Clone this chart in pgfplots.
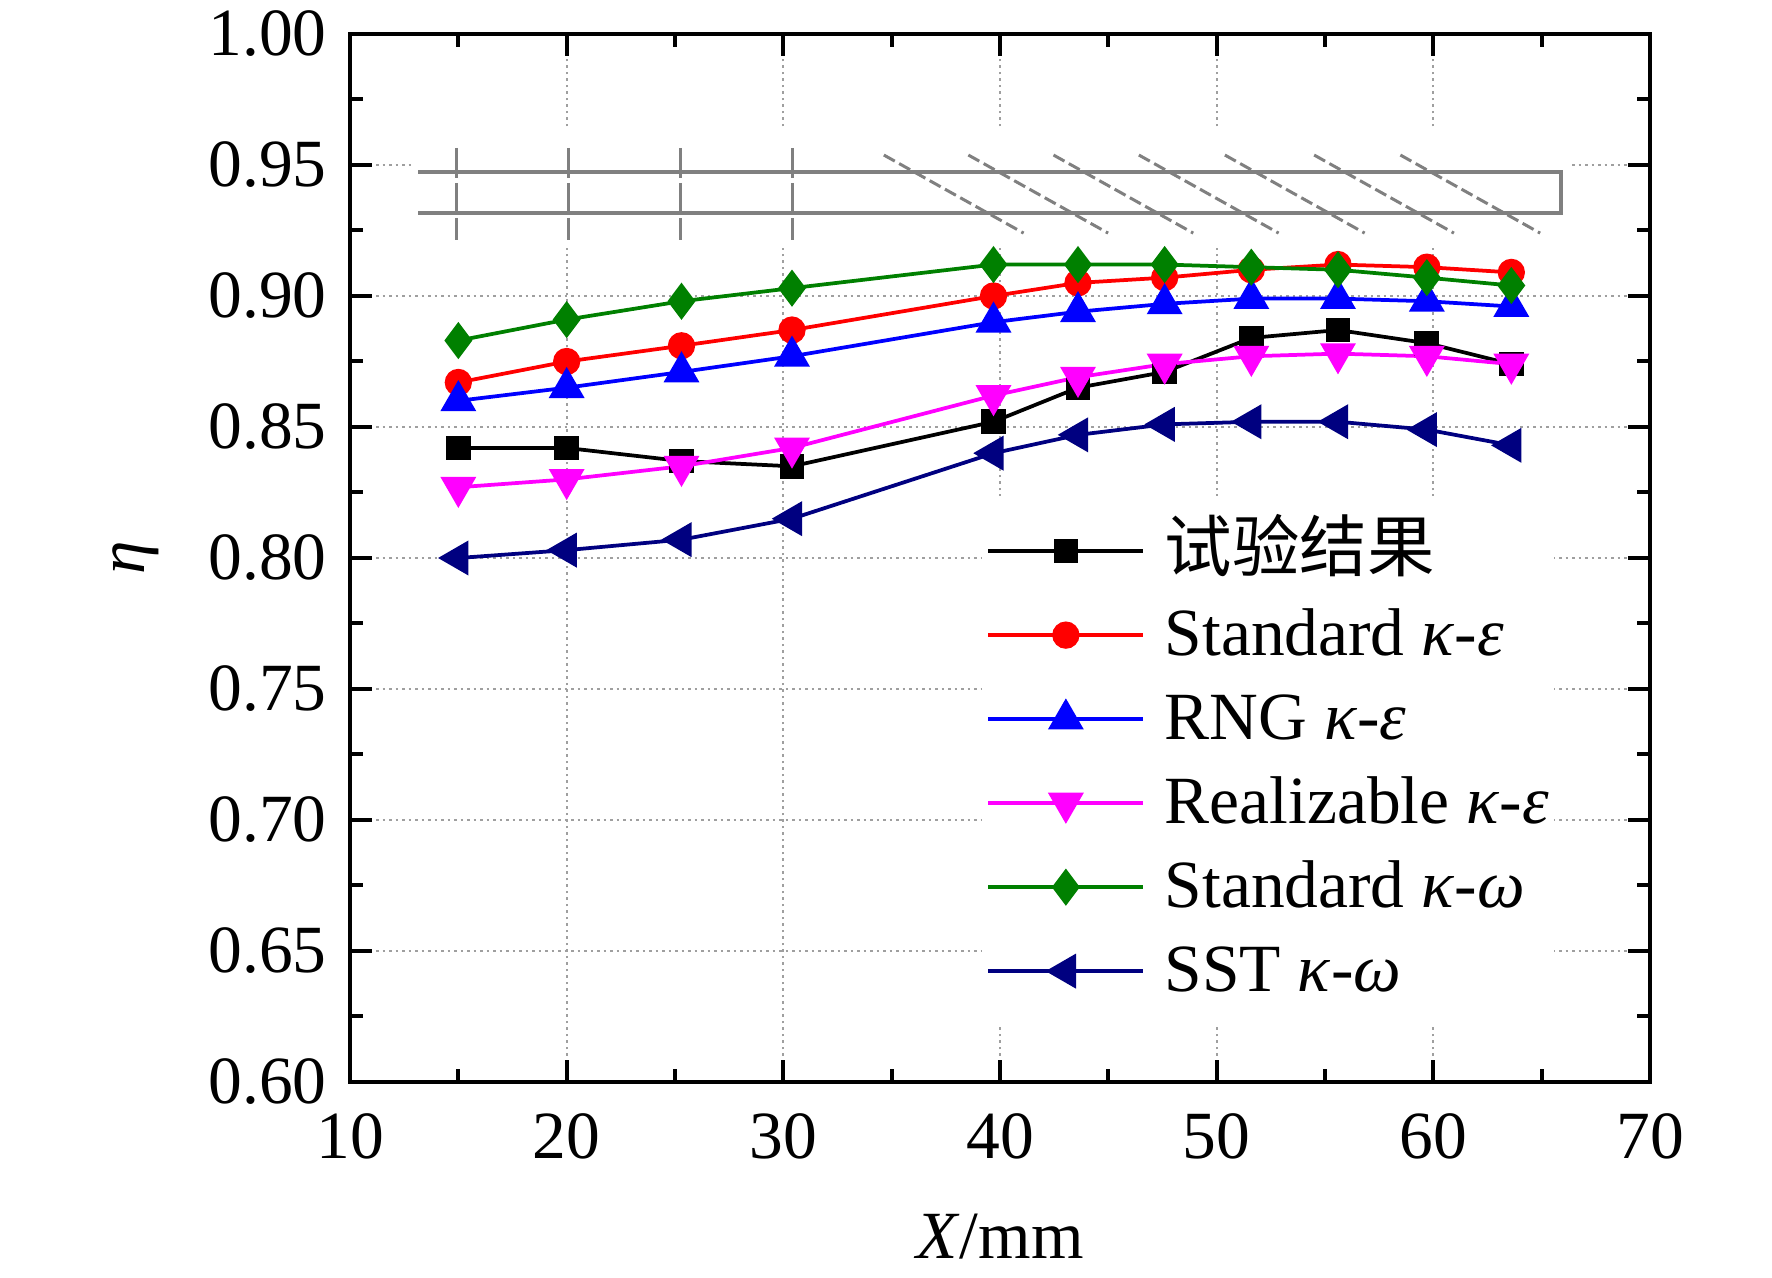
\documentclass[border=0pt]{standalone}
\usepackage{fontspec}
\setmainfont{Liberation Serif}
\newfontfamily\cjk{Noto Sans CJK SC}
\usepackage{pgfplots}
\usepackage{pgfplotstable}
\pgfplotsset{compat=1.18}
\pgfplotstableread{
x     exp    ske    rng    rke    skw    sst
15.0  0.842  0.867  0.860  0.827  0.883  0.800
20.0  0.842  0.875  0.865  0.830  0.891  0.803
25.3  0.837  0.881  0.871  0.835  0.898  0.807
30.4  0.835  0.887  0.877  0.842  0.903  0.815
39.7  0.852  0.900  0.890  0.862  0.912  0.840
43.6  0.865  0.905  0.894  0.869  0.912  0.847
47.6  0.871  0.907  0.897  0.874  0.912  0.851
51.6  0.884  0.910  0.899  0.877  0.911  0.852
55.6  0.887  0.912  0.899  0.878  0.910  0.852
59.7  0.882  0.911  0.898  0.877  0.907  0.849
63.6  0.874  0.909  0.896  0.874  0.904  0.843
}\datatable
\definecolor{navyc}{RGB}{0,0,128}
\definecolor{greenc}{RGB}{0,128,0}
\definecolor{magc}{RGB}{255,0,255}
\begin{document}
\fontsize{13.5}{16}\selectfont
\begin{tikzpicture}
\begin{axis}[
  scale only axis, width=260pt, height=209.6pt,
  xmin=10, xmax=70, ymin=0.6, ymax=1.0,
  xtick={10,20,30,40,50,60,70},
  ytick={0.60,0.65,0.70,0.75,0.80,0.85,0.90,0.95,1.00},
  minor x tick num=1, minor y tick num=1,
  tick align=inside,
  major tick length=4.4pt, minor tick length=2.6pt,
  every tick/.style={black, line width=0.8pt},
  axis line style={line width=0.8pt},
  /pgf/number format/assume math mode=true,
  yticklabel style={/pgf/number format/.cd, fixed, fixed zerofill, precision=2},
  xticklabel style={yshift=-1.7pt},
  tick label style={font=\fontsize{13.5}{16}\selectfont},
  grid=major,
  major grid style={gray!75, line width=0.35pt, dash pattern=on 0.5pt off 0.8pt},
  xlabel={\textit{X}/mm},
  ylabel={\textit{η}},
  label style={font=\fontsize{13.5}{16}\selectfont},
  xlabel style={at={(rel axis cs:0.5,0)}, anchor=base, yshift=-35.2pt},
  ylabel style={at={(rel axis cs:0,0.5)}, anchor=center, yshift=42.8pt},
  every axis plot/.append style={line width=0.75pt},
  legend cell align=left,
  legend image code/.code={\draw[mark repeat=2,mark phase=2,#1] plot coordinates {(0pt,0pt) (15.5pt,0pt) (31pt,0pt)};},
  legend style={at={(rel axis cs:0.485,0.560)}, anchor=north west, draw=none, fill=white,
    inner xsep=1pt, inner ysep=4pt, row sep=2.8pt,
    font=\fontsize{13.5}{16}\selectfont,
    nodes={inner sep=0pt, text height=11pt, text depth=3pt},
    /tikz/every odd column/.append style={column sep=3.9pt}},
]
% schematic (decorative)
\fill[white] (axis cs:12.86,0.9183) rectangle (axis cs:66.2,0.9634);
\draw[gray, line width=0.7pt] (axis cs:13.14,0.9474) -- (axis cs:65.9,0.9474) -- (axis cs:65.9,0.9317) -- (axis cs:13.14,0.9317);
\pgfplotsinvokeforeach{14.9,20.1,25.25,30.4}{
  \draw[gray, line width=0.6pt, dash pattern=on 6pt off 1pt] (axis cs:#1,0.9565) -- (axis cs:#1,0.9214);
}
\pgfplotsinvokeforeach{34.64,38.54,42.47,46.41,50.38,54.50,58.48}{
  \draw[gray, line width=0.6pt, dash pattern=on 2.5pt off 1pt] (axis cs:#1,0.9538) -- ++(axis direction cs:6.45,-0.0298);
}
\addplot[black, mark=square*, mark size=2.1pt, mark options={solid, fill=black}] table[x=x,y=exp] {\datatable};
\addlegendentry{{\cjk 试验结果}}
\addplot[red, mark=*, mark size=2.35pt, mark options={solid, fill=red}] table[x=x,y=ske] {\datatable};
\addlegendentry{Standard \textit{κ}-\textit{ε}}
\addplot[blue, mark=triangle*, mark size=3.4pt, mark options={solid, fill=blue}] table[x=x,y=rng] {\datatable};
\addlegendentry{RNG \textit{κ}-\textit{ε}}
\addplot[magc, mark=triangle*, mark size=3.4pt, mark options={solid, fill=magc, rotate=180}] table[x=x,y=rke] {\datatable};
\addlegendentry{Realizable \textit{κ}-\textit{ε}}
\addplot[greenc, mark=diamond*, mark size=3.1pt, mark options={solid, fill=greenc}] table[x=x,y=skw] {\datatable};
\addlegendentry{Standard \textit{κ}-\textit{ω}}
\addplot[navyc, mark=triangle*, mark size=3.3pt, mark options={solid, fill=navyc, rotate=90}] table[x=x,y=sst] {\datatable};
\addlegendentry{SST \textit{κ}-\textit{ω}}
\coordinate (bl) at (rel axis cs:0,0);
\coordinate (tr) at (rel axis cs:1,1);
\end{axis}
\pgfresetboundingbox
\path ([xshift=-70pt,yshift=-39.2pt]bl) rectangle ([xshift=24.4pt,yshift=6.8pt]tr);
\end{tikzpicture}
\end{document}
